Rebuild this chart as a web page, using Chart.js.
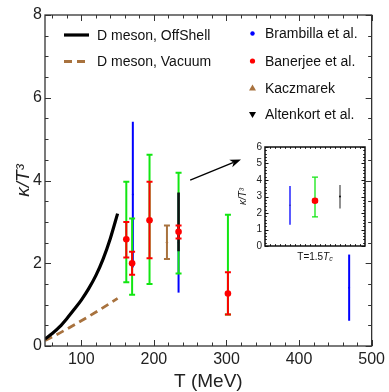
<!DOCTYPE html>
<html><head><meta charset="utf-8">
<script src="https://cdn.jsdelivr.net/npm/chart.js@4"></script>
<style>
html,body{margin:0;padding:0;background:#fff;}
#wrap{position:relative;width:389px;height:392px;overflow:hidden;}
#main{position:absolute;left:0;top:0;}
#inset{position:absolute;left:225px;top:138px;}
</style></head><body>
<div id="wrap">
<canvas id="main" width="389" height="392"></canvas>
<canvas id="inset" width="150" height="130"></canvas>
</div>
<script>
// ---------- data ----------
const offShellT = [50,60,70,80,90,100,110,120,130,140,150];
const offShellK = [0.17,0.30,0.46,0.66,0.88,1.11,1.38,1.70,2.10,2.60,3.20];
const vacuumT = [50,75,100,125,150];
const vacuumK = [0.13,0.36,0.61,0.87,1.15];

const brambillaT  = [171, 234, 469];
const brambillaK  = [3.66, 2.50, 1.41];
const brambillaLo = [1.90, 1.29, 0.61];
const brambillaHi = [5.42, 3.70, 2.21];

const banerjeeT  = [162, 170, 194, 234, 302];
const banerjeeK  = [2.58, 2.00, 3.04, 2.76, 1.27];
const banerjeeLo = [2.14, 1.72, 2.12, 2.60, 0.76];
const banerjeeHi = [3.00, 2.28, 3.97, 2.91, 1.78];
const banerjeeSysLo = [1.54, 1.24, 1.50, 1.75, 0.76];
const banerjeeSysHi = [3.97, 3.08, 4.62, 4.19, 3.17];

const kaczmarekT  = [218];
const kaczmarekK  = [2.50];
const kaczmarekLo = [2.10];
const kaczmarekHi = [2.91];

const altenkortT  = [234];
const altenkortK  = [3.00];
const altenkortLo = [2.29];
const altenkortHi = [3.71];

const xTickLabels = [100, 200, 300, 400, 500];
const yTickLabels = [0, 2, 4, 6, 8];

// inset (T = 1.5 Tc)
const insetCats = [1, 2, 3];
const insetBrambillaK = [2.47], insetBrambillaLo = [1.29], insetBrambillaHi = [3.64];
const insetBanerjeeK = [2.74], insetBanerjeeLo = [2.65], insetBanerjeeHi = [2.83];
const insetBanerjeeSysLo = [1.76], insetBanerjeeSysHi = [4.17];
const insetAltenkortK = [3.00], insetAltenkortLo = [2.28], insetAltenkortHi = [3.69];
const insetYTicks = [0,1,2,3,4,5,6];

// arrow annotation in data coordinates
const arrowFrom = [250, 4.01];
const arrowTo   = [320, 4.51];

// ---------- helpers ----------
const FONT = 'Liberation Sans';
const zip = (xs, ys) => xs.map((x, i) => ({x, y: ys[i]}));
const C = {blue:'#0000ff', green:'#12e612', red:'#ff0000', brown:'#a8723e', black:'#000000'};

const errorBars = {
  id: 'errorBars',
  beforeDatasetDraw(chart, args) {
    const ds = chart.data.datasets[args.index];
    if (!ds.errLo) return;
    const {ctx} = chart, x = chart.scales.x, y = chart.scales.y;
    ctx.save();
    ctx.strokeStyle = ds.errColor; ctx.lineWidth = ds.errWidth || 2;
    ctx.lineCap = 'butt';
    ds.data.forEach((p, i) => {
      const px = x.getPixelForValue(p.x);
      const yl = y.getPixelForValue(ds.errLo[i]), yh = y.getPixelForValue(ds.errHi[i]);
      ctx.beginPath(); ctx.moveTo(px, yl); ctx.lineTo(px, yh); ctx.stroke();
      if (ds.cap) {
        ctx.beginPath();
        ctx.moveTo(px - ds.cap, yl); ctx.lineTo(px + ds.cap, yl);
        ctx.moveTo(px - ds.cap, yh); ctx.lineTo(px + ds.cap, yh);
        ctx.stroke();
      }
    });
    ctx.restore();
  }
};

function frameTicks(xMajor, xMinor, yMajor, yMinor, majLen, minLen, lw, color) {
  return {
    id: 'frameTicks',
    afterDraw(chart) {
      const {ctx, chartArea: a} = chart, x = chart.scales.x, y = chart.scales.y;
      ctx.save(); ctx.strokeStyle = color; ctx.lineWidth = 1;
      const tx = (v, len) => { const p = Math.round(x.getPixelForValue(v)) + 0.5;
        ctx.moveTo(p, a.bottom); ctx.lineTo(p, a.bottom - len);
        ctx.moveTo(p, a.top); ctx.lineTo(p, a.top + len); };
      const ty = (v, len) => { const p = Math.round(y.getPixelForValue(v)) + 0.5;
        ctx.moveTo(a.left, p); ctx.lineTo(a.left + len, p);
        ctx.moveTo(a.right, p); ctx.lineTo(a.right - len, p); };
      ctx.beginPath();
      xMajor.forEach(v => tx(v, majLen)); xMinor.forEach(v => tx(v, minLen));
      yMajor.forEach(v => ty(v, majLen)); yMinor.forEach(v => ty(v, minLen));
      ctx.stroke();
      ctx.lineWidth = lw;
      ctx.strokeRect(a.left, a.top, a.right - a.left, a.bottom - a.top);
      ctx.restore();
    }
  };
}

function range(a, b, s) { const r = []; for (let v = a; v <= b + 1e-9; v += s) r.push(+v.toFixed(4)); return r; }

// ---------- legend & arrow (main) ----------
const legendPlugin = {
  id: 'customLegend',
  afterDraw(chart) {
    const {ctx} = chart;
    const ds = chart.data.datasets;
    const byKey = k => ds.find(d => d.key === k);
    ctx.save();
    ctx.font = '14px "' + FONT + '"';
    ctx.fillStyle = '#111'; ctx.textBaseline = 'middle'; ctx.textAlign = 'left';
    const left = [['offshell', 35], ['vacuum', 61.5]];
    left.forEach(([k, yy]) => {
      const d = byKey(k);
      ctx.save();
      ctx.strokeStyle = d.borderColor; ctx.lineWidth = d.borderWidth;
      ctx.setLineDash(d.borderDash || []);
      ctx.beginPath(); ctx.moveTo(64, yy); ctx.lineTo(89, yy); ctx.stroke();
      ctx.restore();
      ctx.fillText(d.label, 97, yy + 1);
    });
    const right = [['brambilla', 33.5], ['banerjee', 61], ['kaczmarek', 88], ['altenkort', 114.5]];
    right.forEach(([k, yy]) => {
      const d = byKey(k);
      const mx = 252.5;
      ctx.fillStyle = d.legendColor;
      ctx.beginPath();
      if (d.legendMarker === 'circle') ctx.arc(mx, yy, d.legendSize, 0, Math.PI * 2);
      else if (d.legendMarker === 'up') { ctx.moveTo(mx - 3.5, yy + 2.5); ctx.lineTo(mx + 3.5, yy + 2.5); ctx.lineTo(mx, yy - 3.5); }
      else if (d.legendMarker === 'down') { ctx.moveTo(mx - 3.5, yy - 2.5); ctx.lineTo(mx + 3.5, yy - 2.5); ctx.lineTo(mx, yy + 3.5); }
      ctx.closePath(); ctx.fill();
      ctx.fillStyle = '#111';
      ctx.fillText(d.label, 265, yy + 1);
    });
    const x = chart.scales.x, y = chart.scales.y;
    const x0 = x.getPixelForValue(arrowFrom[0]), y0 = y.getPixelForValue(arrowFrom[1]);
    const x1 = x.getPixelForValue(arrowTo[0]), y1 = y.getPixelForValue(arrowTo[1]);
    const ang = Math.atan2(y1 - y0, x1 - x0);
    ctx.strokeStyle = '#000'; ctx.lineWidth = 1.3;
    ctx.beginPath(); ctx.moveTo(x0, y0);
    ctx.lineTo(x1 - 8 * Math.cos(ang), y1 - 8 * Math.sin(ang)); ctx.stroke();
    ctx.fillStyle = '#000';
    ctx.beginPath(); ctx.moveTo(x1, y1);
    ctx.lineTo(x1 - 11 * Math.cos(ang) + 4 * Math.sin(ang), y1 - 11 * Math.sin(ang) - 4 * Math.cos(ang));
    ctx.lineTo(x1 - 8 * Math.cos(ang), y1 - 8 * Math.sin(ang));
    ctx.lineTo(x1 - 11 * Math.cos(ang) - 4 * Math.sin(ang), y1 - 11 * Math.sin(ang) + 4 * Math.cos(ang));
    ctx.closePath(); ctx.fill();
    ctx.restore();
  }
};

// ---------- main chart ----------
new Chart(document.getElementById('main'), {
  type: 'scatter',
  data: {
    datasets: [
      { key:'offshell', label:'D meson, OffShell', type:'line', data: zip(offShellT, offShellK),
        borderColor:C.black, borderWidth:3.2, pointRadius:0, cubicInterpolationMode:'monotone', fill:false, order:10 },
      { key:'vacuum', label:'D meson, Vacuum', type:'line', data: zip(vacuumT, vacuumK),
        borderColor:C.brown, borderWidth:2.8, borderDash:[8,5], pointRadius:0, cubicInterpolationMode:'monotone', fill:false, order:10 },
      { key:'brambilla', label:'Brambilla et al.', data: zip(brambillaT, brambillaK),
        errLo: brambillaLo, errHi: brambillaHi, errColor:C.blue, errWidth:2, cap:0,
        pointRadius:1, backgroundColor:C.blue, borderWidth:0, legendMarker:'circle', legendColor:C.blue, legendSize:2.2, order:9 },
      { key:'banerjeeSys', label:'', data: zip(banerjeeT, banerjeeK),
        errLo: banerjeeSysLo, errHi: banerjeeSysHi, errColor:C.green, errWidth:2, cap:3,
        pointRadius:0, order:8 },
      { key:'kaczmarek', label:'Kaczmarek', data: zip(kaczmarekT, kaczmarekK),
        errLo: kaczmarekLo, errHi: kaczmarekHi, errColor:C.brown, errWidth:2, cap:3,
        pointRadius:1.2, backgroundColor:C.brown, borderWidth:0, legendMarker:'up', legendColor:C.brown, order:7 },
      { key:'altenkort', label:'Altenkort et al.', data: zip(altenkortT, altenkortK),
        errLo: altenkortLo, errHi: altenkortHi, errColor:'#111', errWidth:2.5, cap:0,
        pointRadius:0, legendMarker:'down', legendColor:C.black, order:6 },
      { key:'banerjee', label:'Banerjee et al.', data: zip(banerjeeT, banerjeeK),
        errLo: banerjeeLo, errHi: banerjeeHi, errColor:C.red, errWidth:2, cap:3,
        pointRadius:3.3, backgroundColor:C.red, borderWidth:0, legendMarker:'circle', legendColor:C.red, legendSize:2.6, order:5 }
    ]
  },
  options: {
    responsive:false, animation:false, devicePixelRatio:1,
    layout: { padding: { top:15, right:14, left:0, bottom:0 } },
    plugins: { legend:{display:false}, tooltip:{enabled:false} },
    scales: {
      x: { type:'linear', min:50, max:500,
        afterBuildTicks: s => { s.ticks = xTickLabels.map(v => ({value:v})); },
        afterFit: s => { s.height = 46; },
        grid:{display:false, drawTicks:false}, border:{display:false},
        ticks:{ font:{family:FONT, size:16}, color:'#222', padding:4, maxRotation:0, autoSkip:false },
        title:{ display:true, text:'T (MeV)', font:{family:FONT, size:19, lineHeight:1}, color:'#222', padding:{top:0, bottom:1} }
      },
      y: { type:'linear', min:0, max:8,
        afterBuildTicks: s => { s.ticks = yTickLabels.map(v => ({value:v})); },
        afterFit: s => { s.width = 45; },
        grid:{display:false, drawTicks:false}, border:{display:false},
        ticks:{ font:{family:FONT, size:16}, color:'#222', padding:3 },
        title:{ display:true, text:'κ/T³', font:{family:FONT, size:19, style:'italic', lineHeight:1}, color:'#222', padding:{top:14, bottom:0} }
      }
    }
  },
  plugins: [errorBars,
    frameTicks(xTickLabels, range(60, 480, 20).filter(v => v % 100 !== 0),
               yTickLabels, range(0.5, 7.5, 0.5).filter(v => v % 2 !== 0), 6, 3.5, 1.3, '#333'),
    legendPlugin]
});

// ---------- inset chart ----------
const insetLabel = {
  id: 'insetLabel',
  afterDraw(chart) {
    const {ctx, chartArea: a} = chart;
    ctx.save();
    ctx.fillStyle = '#111'; ctx.textBaseline = 'middle'; ctx.textAlign = 'left';
    const f1 = '10px "' + FONT + '"', f2 = 'italic 10px "' + FONT + '"', f3 = 'italic 7px "' + FONT + '"';
    const parts = [['T=1.5', f1, 0], ['T', f2, 0], ['c', f3, 2.5]];
    let w = 0;
    parts.forEach(([t, f]) => { ctx.font = f; w += ctx.measureText(t).width; });
    let cx = (a.left + a.right) / 2 - w / 2;
    const cy = a.bottom + 11;
    parts.forEach(([t, f, dy]) => { ctx.font = f; ctx.fillText(t, cx, cy + dy); cx += ctx.measureText(t).width; });
    ctx.restore();
  }
};

new Chart(document.getElementById('inset'), {
  type: 'scatter',
  data: {
    datasets: [
      { label:'Brambilla et al.', data: zip(insetCats.slice(0,1), insetBrambillaK),
        errLo: insetBrambillaLo, errHi: insetBrambillaHi, errColor:C.blue, errWidth:1.3, cap:0,
        pointRadius:0.8, backgroundColor:'#3333aa', borderWidth:0, order:4 },
      { label:'', data: zip(insetCats.slice(1,2), insetBanerjeeK),
        errLo: insetBanerjeeSysLo, errHi: insetBanerjeeSysHi, errColor:C.green, errWidth:1.3, cap:3,
        pointRadius:0, order:3 },
      { label:'Altenkort et al.', data: zip(insetCats.slice(2,3), insetAltenkortK),
        errLo: insetAltenkortLo, errHi: insetAltenkortHi, errColor:'#555', errWidth:1.3, cap:0,
        pointRadius:1, backgroundColor:'#111', borderWidth:0, order:2 },
      { label:'Banerjee et al.', data: zip(insetCats.slice(1,2), insetBanerjeeK),
        errLo: insetBanerjeeLo, errHi: insetBanerjeeHi, errColor:C.red, errWidth:1.3, cap:3,
        pointRadius:3.3, backgroundColor:C.red, borderWidth:0, order:1 }
    ]
  },
  options: {
    responsive:false, animation:false, devicePixelRatio:1,
    layout: { padding: { top:7, right:10, left:0, bottom:0 } },
    plugins: { legend:{display:false}, tooltip:{enabled:false} },
    scales: {
      x: { type:'linear', min:0, max:4,
        afterFit: s => { s.height = 22; },
        grid:{display:false, drawTicks:false}, border:{display:false}, ticks:{display:false}
      },
      y: { type:'linear', min:0, max:6,
        afterBuildTicks: s => { s.ticks = insetYTicks.map(v => ({value:v})); },
        afterFit: s => { s.width = 40; },
        grid:{display:false, drawTicks:false}, border:{display:false},
        ticks:{ font:{family:FONT, size:10}, color:'#222', padding:3 },
        title:{ display:true, text:'κ/T³', font:{family:FONT, size:10, style:'italic', lineHeight:1}, color:'#222', padding:{top:13, bottom:0} }
      }
    }
  },
  plugins: [errorBars,
    frameTicks([], range(0.2, 3.8, 0.2), insetYTicks, range(0.2, 5.8, 0.2).filter(v => Math.abs(v - Math.round(v)) > 1e-6), 3.5, 1.8, 1.5, '#111'),
    insetLabel]
});
</script>
</body></html>
